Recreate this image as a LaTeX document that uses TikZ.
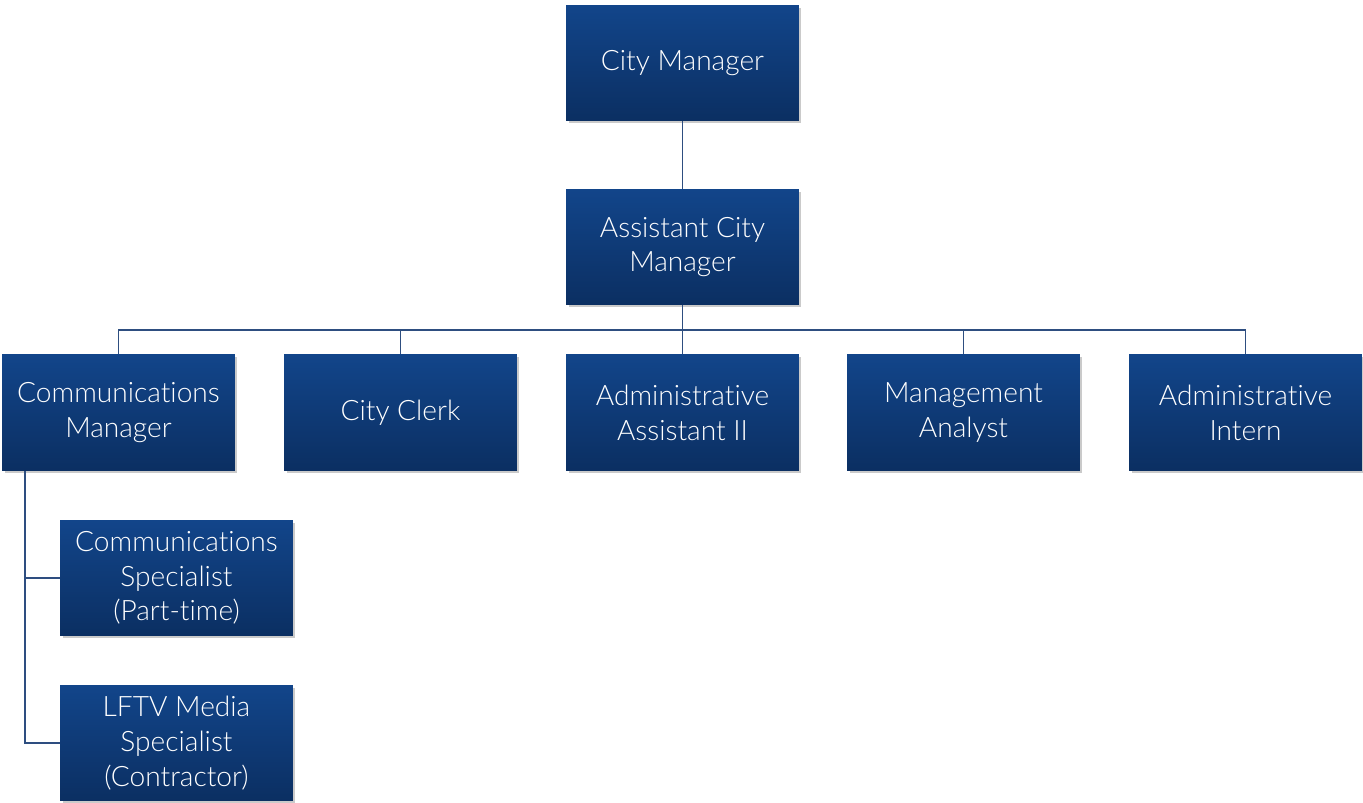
\documentclass[tikz,border=0pt]{standalone}
\usepackage{fontspec}
\setmainfont{Lato Light}[Ligatures={NoCommon,NoRare,NoContextual}]
\usetikzlibrary{shadows}
\definecolor{boxtop}{HTML}{12458A}
\definecolor{boxbot}{HTML}{0B2F62}
\definecolor{linkcol}{HTML}{2E4E80}
\tikzset{
  post/.style={rectangle, top color=boxtop, bottom color=boxbot, draw=none,
    minimum width=4.66cm, minimum height=2.32cm, inner sep=2pt,
    text=white, align=center, font=\fontsize{16}{19.8}\selectfont,
    drop shadow={shadow xshift=0.05cm, shadow yshift=-0.05cm, opacity=0.35, fill=black!60}},
  link/.style={draw=linkcol, line width=1.1pt}
}
\begin{document}
\begin{tikzpicture}[x=0.02cm, y=-0.02cm]
\useasboundingbox (0,0) rectangle (1363,803);
% top of the chart
\node[post] (cm) at (682.5,63) {City Manager};
\node[post] (acm) at (682.5,247) {Assistant City\\Manager};
% staff row
\node[post] (comm) at (118.5,412.5) {Communications\\Manager};
\node[post] (clerk) at (400.5,412.5) {City Clerk};
\node[post] (aa) at (682.5,412.5) {Administrative\\Assistant II};
\node[post] (ma) at (963.5,412.5) {Management\\Analyst};
\node[post] (intern) at (1245.5,412.5) {Administrative\\Intern};
% communications team
\node[post] (spec) at (176.5,578) {Communications\\Specialist\\(Part-time)};
\node[post] (media) at (176.5,743) {LFTV Media\\Specialist\\(Contractor)};
% connectors
\coordinate (bus) at (0,330);
\coordinate (spine) at (25,0);
\draw[link] (cm.south) -- (acm.north);
\foreach \n in {comm,clerk,aa,ma,intern}
  \draw[link] (acm.south) -- (acm.south |- bus) -| (\n.north);
\draw[link] (comm.south -| spine) |- (spec.west);
\draw[link] (comm.south -| spine) |- (media.west);
\end{tikzpicture}
\end{document}
